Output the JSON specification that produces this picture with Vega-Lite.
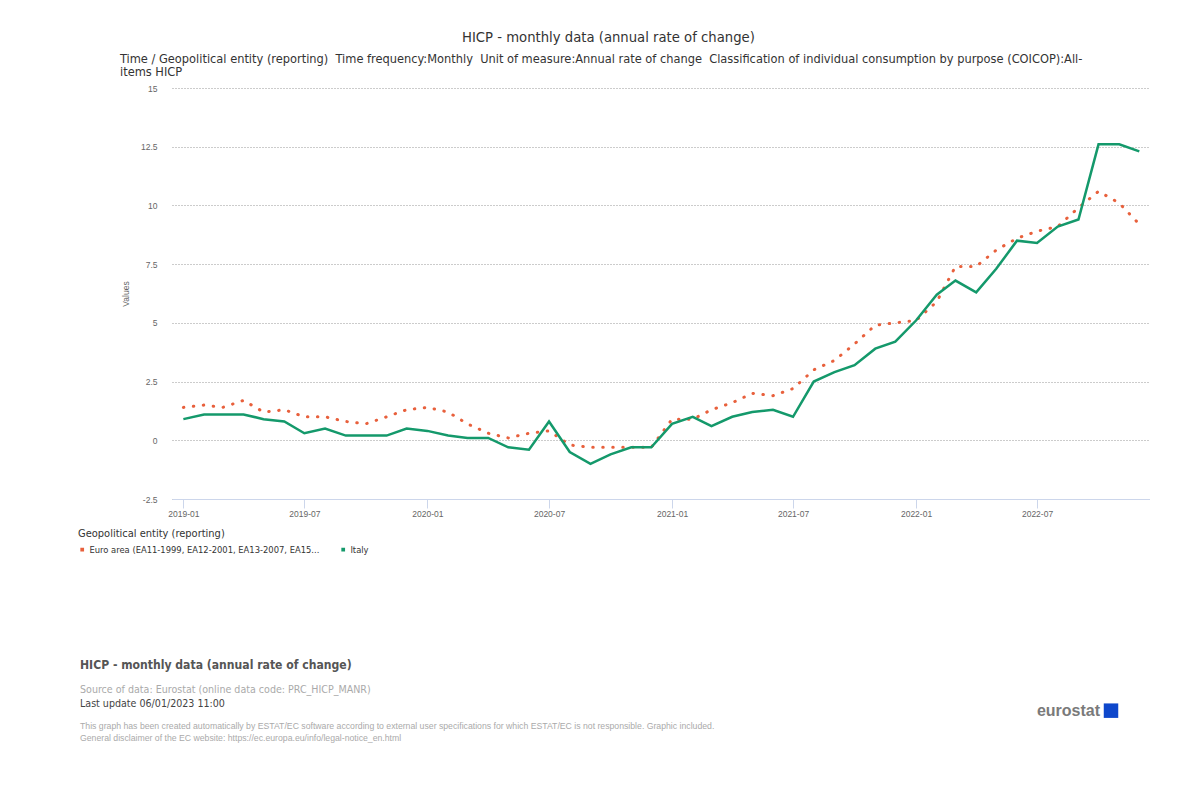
{
  "$schema": "https://vega.github.io/schema/vega-lite/v6.json",
  "background": "white",
  "padding": {"left": 78, "top": 29, "right": 0, "bottom": 0},
  "title": {"text": "HICP - monthly data (annual rate of change)", "anchor": "start", "frame": "group", "dx": 290, "font": "DejaVu Sans Condensed, Liberation Sans, sans-serif", "fontSize": 14.7, "fontWeight": "normal", "color": "#333333", "offset": 9},
  "align": "none",
  "spacing": 141,
  "vconcat": [
    {
      "width": 978,
      "height": 411,
      "title": {"text": ["Time / Geopolitical entity (reporting)\u00a0 Time frequency:Monthly\u00a0 Unit of measure:Annual rate of change\u00a0 Classification of individual consumption by purpose (COICOP):All-", "items HICP"], "anchor": "start", "frame": "group", "dx": -52, "font": "DejaVu Sans Condensed, Liberation Sans, sans-serif", "fontSize": 12.7, "fontWeight": "normal", "color": "#333333", "lineHeight": 13, "offset": 5},
      "data": {"values": [
        {"date": "2019-01-01", "geo": "Euro area (EA11-1999, EA12-2001, EA13-2007, EA15...", "value": 1.4},
        {"date": "2019-02-01", "geo": "Euro area (EA11-1999, EA12-2001, EA13-2007, EA15...", "value": 1.5},
        {"date": "2019-03-01", "geo": "Euro area (EA11-1999, EA12-2001, EA13-2007, EA15...", "value": 1.4},
        {"date": "2019-04-01", "geo": "Euro area (EA11-1999, EA12-2001, EA13-2007, EA15...", "value": 1.7},
        {"date": "2019-05-01", "geo": "Euro area (EA11-1999, EA12-2001, EA13-2007, EA15...", "value": 1.2},
        {"date": "2019-06-01", "geo": "Euro area (EA11-1999, EA12-2001, EA13-2007, EA15...", "value": 1.3},
        {"date": "2019-07-01", "geo": "Euro area (EA11-1999, EA12-2001, EA13-2007, EA15...", "value": 1.0},
        {"date": "2019-08-01", "geo": "Euro area (EA11-1999, EA12-2001, EA13-2007, EA15...", "value": 1.0},
        {"date": "2019-09-01", "geo": "Euro area (EA11-1999, EA12-2001, EA13-2007, EA15...", "value": 0.8},
        {"date": "2019-10-01", "geo": "Euro area (EA11-1999, EA12-2001, EA13-2007, EA15...", "value": 0.7},
        {"date": "2019-11-01", "geo": "Euro area (EA11-1999, EA12-2001, EA13-2007, EA15...", "value": 1.0},
        {"date": "2019-12-01", "geo": "Euro area (EA11-1999, EA12-2001, EA13-2007, EA15...", "value": 1.3},
        {"date": "2020-01-01", "geo": "Euro area (EA11-1999, EA12-2001, EA13-2007, EA15...", "value": 1.4},
        {"date": "2020-02-01", "geo": "Euro area (EA11-1999, EA12-2001, EA13-2007, EA15...", "value": 1.2},
        {"date": "2020-03-01", "geo": "Euro area (EA11-1999, EA12-2001, EA13-2007, EA15...", "value": 0.7},
        {"date": "2020-04-01", "geo": "Euro area (EA11-1999, EA12-2001, EA13-2007, EA15...", "value": 0.3},
        {"date": "2020-05-01", "geo": "Euro area (EA11-1999, EA12-2001, EA13-2007, EA15...", "value": 0.1},
        {"date": "2020-06-01", "geo": "Euro area (EA11-1999, EA12-2001, EA13-2007, EA15...", "value": 0.3},
        {"date": "2020-07-01", "geo": "Euro area (EA11-1999, EA12-2001, EA13-2007, EA15...", "value": 0.4},
        {"date": "2020-08-01", "geo": "Euro area (EA11-1999, EA12-2001, EA13-2007, EA15...", "value": -0.2},
        {"date": "2020-09-01", "geo": "Euro area (EA11-1999, EA12-2001, EA13-2007, EA15...", "value": -0.3},
        {"date": "2020-10-01", "geo": "Euro area (EA11-1999, EA12-2001, EA13-2007, EA15...", "value": -0.3},
        {"date": "2020-11-01", "geo": "Euro area (EA11-1999, EA12-2001, EA13-2007, EA15...", "value": -0.3},
        {"date": "2020-12-01", "geo": "Euro area (EA11-1999, EA12-2001, EA13-2007, EA15...", "value": -0.3},
        {"date": "2021-01-01", "geo": "Euro area (EA11-1999, EA12-2001, EA13-2007, EA15...", "value": 0.9},
        {"date": "2021-02-01", "geo": "Euro area (EA11-1999, EA12-2001, EA13-2007, EA15...", "value": 0.9},
        {"date": "2021-03-01", "geo": "Euro area (EA11-1999, EA12-2001, EA13-2007, EA15...", "value": 1.3},
        {"date": "2021-04-01", "geo": "Euro area (EA11-1999, EA12-2001, EA13-2007, EA15...", "value": 1.6},
        {"date": "2021-05-01", "geo": "Euro area (EA11-1999, EA12-2001, EA13-2007, EA15...", "value": 2.0},
        {"date": "2021-06-01", "geo": "Euro area (EA11-1999, EA12-2001, EA13-2007, EA15...", "value": 1.9},
        {"date": "2021-07-01", "geo": "Euro area (EA11-1999, EA12-2001, EA13-2007, EA15...", "value": 2.2},
        {"date": "2021-08-01", "geo": "Euro area (EA11-1999, EA12-2001, EA13-2007, EA15...", "value": 3.0},
        {"date": "2021-09-01", "geo": "Euro area (EA11-1999, EA12-2001, EA13-2007, EA15...", "value": 3.4},
        {"date": "2021-10-01", "geo": "Euro area (EA11-1999, EA12-2001, EA13-2007, EA15...", "value": 4.1},
        {"date": "2021-11-01", "geo": "Euro area (EA11-1999, EA12-2001, EA13-2007, EA15...", "value": 4.9},
        {"date": "2021-12-01", "geo": "Euro area (EA11-1999, EA12-2001, EA13-2007, EA15...", "value": 5.0},
        {"date": "2022-01-01", "geo": "Euro area (EA11-1999, EA12-2001, EA13-2007, EA15...", "value": 5.1},
        {"date": "2022-02-01", "geo": "Euro area (EA11-1999, EA12-2001, EA13-2007, EA15...", "value": 5.9},
        {"date": "2022-03-01", "geo": "Euro area (EA11-1999, EA12-2001, EA13-2007, EA15...", "value": 7.4},
        {"date": "2022-04-01", "geo": "Euro area (EA11-1999, EA12-2001, EA13-2007, EA15...", "value": 7.4},
        {"date": "2022-05-01", "geo": "Euro area (EA11-1999, EA12-2001, EA13-2007, EA15...", "value": 8.1},
        {"date": "2022-06-01", "geo": "Euro area (EA11-1999, EA12-2001, EA13-2007, EA15...", "value": 8.6},
        {"date": "2022-07-01", "geo": "Euro area (EA11-1999, EA12-2001, EA13-2007, EA15...", "value": 8.9},
        {"date": "2022-08-01", "geo": "Euro area (EA11-1999, EA12-2001, EA13-2007, EA15...", "value": 9.1},
        {"date": "2022-09-01", "geo": "Euro area (EA11-1999, EA12-2001, EA13-2007, EA15...", "value": 9.9},
        {"date": "2022-10-01", "geo": "Euro area (EA11-1999, EA12-2001, EA13-2007, EA15...", "value": 10.6},
        {"date": "2022-11-01", "geo": "Euro area (EA11-1999, EA12-2001, EA13-2007, EA15...", "value": 10.1},
        {"date": "2022-12-01", "geo": "Euro area (EA11-1999, EA12-2001, EA13-2007, EA15...", "value": 9.2},
        {"date": "2019-01-01", "geo": "Italy", "value": 0.9},
        {"date": "2019-02-01", "geo": "Italy", "value": 1.1},
        {"date": "2019-03-01", "geo": "Italy", "value": 1.1},
        {"date": "2019-04-01", "geo": "Italy", "value": 1.1},
        {"date": "2019-05-01", "geo": "Italy", "value": 0.9},
        {"date": "2019-06-01", "geo": "Italy", "value": 0.8},
        {"date": "2019-07-01", "geo": "Italy", "value": 0.3},
        {"date": "2019-08-01", "geo": "Italy", "value": 0.5},
        {"date": "2019-09-01", "geo": "Italy", "value": 0.2},
        {"date": "2019-10-01", "geo": "Italy", "value": 0.2},
        {"date": "2019-11-01", "geo": "Italy", "value": 0.2},
        {"date": "2019-12-01", "geo": "Italy", "value": 0.5},
        {"date": "2020-01-01", "geo": "Italy", "value": 0.4},
        {"date": "2020-02-01", "geo": "Italy", "value": 0.2},
        {"date": "2020-03-01", "geo": "Italy", "value": 0.1},
        {"date": "2020-04-01", "geo": "Italy", "value": 0.1},
        {"date": "2020-05-01", "geo": "Italy", "value": -0.3},
        {"date": "2020-06-01", "geo": "Italy", "value": -0.4},
        {"date": "2020-07-01", "geo": "Italy", "value": 0.8},
        {"date": "2020-08-01", "geo": "Italy", "value": -0.5},
        {"date": "2020-09-01", "geo": "Italy", "value": -1.0},
        {"date": "2020-10-01", "geo": "Italy", "value": -0.6},
        {"date": "2020-11-01", "geo": "Italy", "value": -0.3},
        {"date": "2020-12-01", "geo": "Italy", "value": -0.3},
        {"date": "2021-01-01", "geo": "Italy", "value": 0.7},
        {"date": "2021-02-01", "geo": "Italy", "value": 1.0},
        {"date": "2021-03-01", "geo": "Italy", "value": 0.6},
        {"date": "2021-04-01", "geo": "Italy", "value": 1.0},
        {"date": "2021-05-01", "geo": "Italy", "value": 1.2},
        {"date": "2021-06-01", "geo": "Italy", "value": 1.3},
        {"date": "2021-07-01", "geo": "Italy", "value": 1.0},
        {"date": "2021-08-01", "geo": "Italy", "value": 2.5},
        {"date": "2021-09-01", "geo": "Italy", "value": 2.9},
        {"date": "2021-10-01", "geo": "Italy", "value": 3.2},
        {"date": "2021-11-01", "geo": "Italy", "value": 3.9},
        {"date": "2021-12-01", "geo": "Italy", "value": 4.2},
        {"date": "2022-01-01", "geo": "Italy", "value": 5.1},
        {"date": "2022-02-01", "geo": "Italy", "value": 6.2},
        {"date": "2022-03-01", "geo": "Italy", "value": 6.8},
        {"date": "2022-04-01", "geo": "Italy", "value": 6.3},
        {"date": "2022-05-01", "geo": "Italy", "value": 7.3},
        {"date": "2022-06-01", "geo": "Italy", "value": 8.5},
        {"date": "2022-07-01", "geo": "Italy", "value": 8.4},
        {"date": "2022-08-01", "geo": "Italy", "value": 9.1},
        {"date": "2022-09-01", "geo": "Italy", "value": 9.4},
        {"date": "2022-10-01", "geo": "Italy", "value": 12.6},
        {"date": "2022-11-01", "geo": "Italy", "value": 12.6},
        {"date": "2022-12-01", "geo": "Italy", "value": 12.3}
      ]},
      "encoding": {
        "x": {
          "field": "date", "type": "temporal",
          "scale": {"type": "utc", "domain": ["2018-12-15", "2022-12-17"]},
          "axis": {"title": null, "labelExpr": "utcFormat(datum.value, '%Y-%m')", "tickCount": {"interval": "month", "step": 6}, "grid": false, "domainColor": "#ccd6eb", "tickColor": "#ccd6eb", "tickSize": 9, "labelPadding": 1, "labelFont": "Liberation Sans", "labelFontSize": 8.5, "labelColor": "#666666", "labelFlush": false}
        },
        "y": {
          "field": "value", "type": "quantitative",
          "scale": {"domain": [-2.5, 15], "nice": false, "zero": false},
          "axis": {"title": "Values", "values": [-2.5, 0, 2.5, 5, 7.5, 10, 12.5, 15], "labelExpr": "datum.value + ''", "domain": false, "ticks": false, "labelPadding": 15, "labelFont": "Liberation Sans", "labelFontSize": 8.5, "labelColor": "#666666", "titleFont": "Liberation Sans", "titleFontSize": 8.5, "titleFontWeight": "normal", "titleColor": "#666666", "titlePadding": 10, "grid": true, "gridDash": [1, 2], "gridColor": "#999999", "gridWidth": 1}
        },
        "color": {
          "field": "geo", "type": "nominal",
          "scale": {"domain": ["Euro area (EA11-1999, EA12-2001, EA13-2007, EA15...", "Italy"], "range": ["#e8603c", "#14996b"]},
          "legend": {"title": "Geopolitical entity (reporting)", "orient": "none", "legendX": -94, "legendY": 440, "direction": "horizontal", "titleFont": "DejaVu Sans Condensed, Liberation Sans, sans-serif", "titleFontSize": 11, "titleFontWeight": "normal", "titleColor": "#333333", "titlePadding": 6, "labelFont": "DejaVu Sans", "labelFontSize": 8.4, "labelColor": "#333333", "labelLimit": 0, "labelOffset": 3, "symbolType": "square", "symbolSize": 3, "symbolStrokeWidth": 2, "symbolDash": [1, 0], "columnPadding": 18}
        }
      },
      "layer": [
        {"transform": [{"filter": "datum.geo !== 'Italy'"}], "mark": {"type": "line", "strokeWidth": 3, "strokeCap": "round", "strokeDash": [0.5, 9.5]}},
        {"transform": [{"filter": "datum.geo === 'Italy'"}], "mark": {"type": "line", "strokeWidth": 2.5, "strokeJoin": "miter"}}
      ]
    },
    {
      "width": 948,
      "height": 73,
      "data": {"values": [
        {"slot": "1", "col": "left", "kind": "heading", "text": "HICP - monthly data (annual rate of change)"},
        {"slot": "3", "col": "left", "kind": "source", "text": "Source of data: Eurostat (online data code: PRC_HICP_MANR)"},
        {"slot": "4", "col": "left", "kind": "update", "text": "Last update 06/01/2023 11:00"},
        {"slot": "6", "col": "left", "kind": "disclaimer", "text": "This graph has been created automatically by ESTAT/EC software according to external user specifications for which ESTAT/EC is not responsible. Graphic included."},
        {"slot": "7", "col": "left", "kind": "disclaimer", "text": "General disclaimer of the EC website: https://ec.europa.eu/info/legal-notice_en.html"},
        {"slot": "5", "col": "right", "kind": "logo", "text": "eurostat"}
      ]},
      "encoding": {
        "x": {"field": "col", "type": "nominal", "scale": {"type": "point", "domain": ["left", "right"], "range": [-92, 948], "padding": 0}, "axis": null},
        "y": {"field": "slot", "type": "ordinal", "scale": {"type": "point", "domain": ["1", "2", "3", "4", "5", "6", "7"], "padding": 0}, "axis": null},
        "text": {"field": "text"}
      },
      "layer": [
        {"transform": [{"filter": "datum.kind === 'heading'"}], "mark": {"type": "text", "align": "left", "baseline": "middle", "font": "DejaVu Sans Condensed, Liberation Sans, sans-serif", "fontSize": 12.1, "fontWeight": "bold", "color": "#555555"}},
        {"transform": [{"filter": "datum.kind === 'source'"}], "mark": {"type": "text", "align": "left", "baseline": "middle", "dy": 1, "font": "DejaVu Sans Condensed, Liberation Sans, sans-serif", "fontSize": 10.6, "color": "#aaaaaa"}},
        {"transform": [{"filter": "datum.kind === 'update'"}], "mark": {"type": "text", "align": "left", "baseline": "middle", "dy": 2, "font": "DejaVu Sans Condensed, Liberation Sans, sans-serif", "fontSize": 10.6, "color": "#444444"}},
        {"transform": [{"filter": "datum.kind === 'disclaimer'"}], "mark": {"type": "text", "align": "left", "baseline": "middle", "font": "Liberation Sans", "fontSize": 8.7, "color": "#aaaaaa"}},
        {"transform": [{"filter": "datum.kind === 'logo'"}], "mark": {"type": "text", "align": "right", "baseline": "middle", "dx": -20, "dy": -3, "font": "Liberation Sans", "fontSize": 16, "fontWeight": "bold", "color": "#7a7a7a"}},
        {"transform": [{"filter": "datum.kind === 'logo'"}], "mark": {"type": "square", "size": 210, "filled": true, "color": "#0e47cb", "opacity": 1, "xOffset": -9, "yOffset": -3}}
      ]
    }
  ],
  "config": {"view": {"stroke": null}, "font": "Liberation Sans"}
}
